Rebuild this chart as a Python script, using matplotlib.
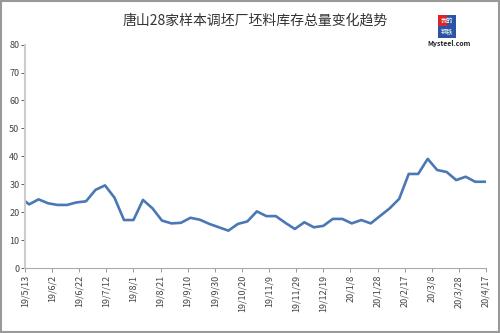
import matplotlib
matplotlib.use("Agg")
import matplotlib.pyplot as plt
import matplotlib.dates as mdates
from matplotlib.patches import Rectangle
import pandas as pd

plt.rcParams['font.family'] = ['Noto Sans CJK SC', 'DejaVu Sans']

# 数据（万吨）
dates = ["2019-05-13", "2019-05-16", "2019-05-23", "2019-05-30", "2019-06-06",
         "2019-06-13", "2019-06-20", "2019-06-27", "2019-07-04", "2019-07-11",
         "2019-07-18", "2019-07-25", "2019-08-01", "2019-08-08", "2019-08-15",
         "2019-08-22", "2019-08-29", "2019-09-05", "2019-09-12", "2019-09-19",
         "2019-09-26", "2019-10-03", "2019-10-10", "2019-10-17", "2019-10-24",
         "2019-10-31", "2019-11-07", "2019-11-14", "2019-11-21", "2019-11-28",
         "2019-12-05", "2019-12-12", "2019-12-19", "2019-12-26", "2020-01-02",
         "2020-01-09", "2020-01-16", "2020-01-23", "2020-01-30", "2020-02-06",
         "2020-02-13", "2020-02-20", "2020-02-27", "2020-03-05", "2020-03-12",
         "2020-03-19", "2020-03-26", "2020-04-02", "2020-04-09", "2020-04-17"]
values = [24.0, 22.8, 24.6, 23.2, 22.6, 22.6, 23.5, 23.9, 28.0, 29.6,
          25.2, 17.2, 17.2, 24.4, 21.4, 17.0, 16.0, 16.2, 18.0, 17.3,
          15.8, 14.6, 13.4, 15.8, 16.7, 20.3, 18.6, 18.6, 16.2, 14.0,
          16.4, 14.6, 15.1, 17.6, 17.6, 16.0, 17.2, 16.0, 18.7, 21.4,
          24.8, 33.7, 33.7, 39.1, 35.1, 34.4, 31.5, 32.7, 30.9, 30.9]

tick_dates = ["2019-05-13", "2019-06-02", "2019-06-22", "2019-07-12", "2019-08-01",
              "2019-08-21", "2019-09-10", "2019-09-30", "2019-10-20", "2019-11-09",
              "2019-11-29", "2019-12-19", "2020-01-08", "2020-01-28", "2020-02-17",
              "2020-03-08", "2020-03-28", "2020-04-17"]
tick_labels = ["19/5/13", "19/6/2", "19/6/22", "19/7/12", "19/8/1", "19/8/21",
               "19/9/10", "19/9/30", "19/10/20", "19/11/9", "19/11/29", "19/12/19",
               "20/1/8", "20/1/28", "20/2/17", "20/3/8", "20/3/28", "20/4/17"]

x = pd.to_datetime(dates)
xt = pd.to_datetime(tick_dates)

fig = plt.figure(figsize=(5.0, 3.33), dpi=100)
ax = fig.add_axes([0.05, 0.195, 0.922, 0.671])

ax.plot(x, values, color='#4a78b5', linewidth=1.9, solid_joinstyle='round')

ax.set_xlim(xt[0], xt[-1])
ax.set_ylim(0, 80)
ax.set_yticks(range(0, 81, 10))
ax.set_xticks(xt)
ax.set_xticklabels(tick_labels, rotation=90, fontsize=6.5, color='#444444')
ax.tick_params(axis='y', labelsize=6.5, colors='#444444', length=3, width=0.6, pad=1)
ax.tick_params(axis='x', length=3, width=0.6, pad=2, colors='#888888')
for lab in ax.get_xticklabels():
    lab.set_color('#444444')

ax.spines['top'].set_visible(False)
ax.spines['right'].set_visible(False)
ax.spines['left'].set_color('#cccccc')
ax.spines['left'].set_linewidth(1.5)
ax.spines['bottom'].set_color('#aaaaaa')
ax.spines['bottom'].set_linewidth(0.8)

fig.text(0.51, 0.938, "唐山28家样本调坯厂坯料库存总量变化趋势", ha='center', va='center',
         fontsize=10, color='#333333')

# Mysteel 标志
lx, ly, lw, lh = 0.876, 0.886, 0.036, 0.069
fig.patches.append(Rectangle((lx, ly + lh / 2), lw / 2, lh / 2, transform=fig.transFigure,
                             facecolor='#d9262b', edgecolor='none'))
fig.patches.append(Rectangle((lx + lw / 2, ly + lh / 2), lw / 2, lh / 2,
                             transform=fig.transFigure, facecolor='#2b55a4', edgecolor='none'))
fig.patches.append(Rectangle((lx, ly), lw, lh / 2, transform=fig.transFigure,
                             facecolor='#2b55a4', edgecolor='none'))
fig.text(lx + lw / 2, ly + lh * 0.75, "我的", ha='center', va='center', fontsize=4.5,
         color='white')
fig.text(lx + lw / 2, ly + lh * 0.25, "钢铁", ha='center', va='center', fontsize=4.5,
         color='white')
fig.text(0.898, 0.868, "Mysteel.com", ha='center', va='center', fontsize=5,
         color='#222222', fontweight='bold')

# 外边框
fig.patches.append(Rectangle((0.002, 0.004), 0.995, 0.993, transform=fig.transFigure,
                             facecolor='none', edgecolor='#999999', linewidth=1.5))

fig.savefig("out.png", dpi=100)
